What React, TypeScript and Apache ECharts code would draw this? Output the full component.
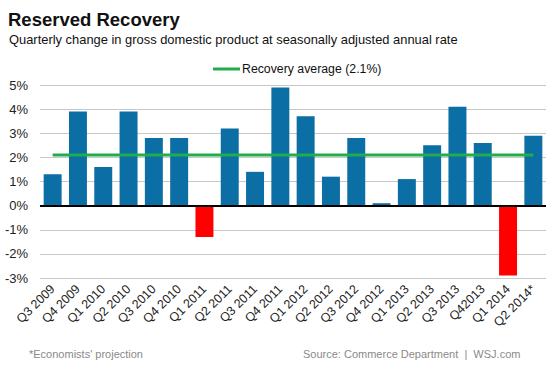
import React, { useEffect, useRef } from "react";
import * as echarts from "echarts";

const categories = [
  "Q3 2009", "Q4 2009", "Q1 2010", "Q2 2010", "Q3 2010", "Q4 2010",
  "Q1 2011", "Q2 2011", "Q3 2011", "Q4 2011", "Q1 2012", "Q2 2012",
  "Q3 2012", "Q4 2012", "Q1 2013", "Q2 2013", "Q3 2013", "Q42013",
  "Q1 2014", "Q2 2014*",
];
const gdpChange = [
  1.3, 3.9, 1.6, 3.9, 2.8, 2.8, -1.3, 3.2, 1.4, 4.9,
  3.7, 1.2, 2.8, 0.1, 1.1, 2.5, 4.1, 2.6, -2.9, 2.9,
];
const recoveryAverage = 2.1;
const averageName = "Recovery average (2.1%)";

const BLUE = "#0b6ea4";
const RED = "#ff0000";
const GREEN = "#21ad4b";

export default function App() {
  const ref = useRef<HTMLDivElement>(null);
  useEffect(() => {
    if (!ref.current) return;
    const chart = echarts.init(ref.current, null, { renderer: "svg" });
    chart.setOption({
      animation: false,
      backgroundColor: "#ffffff",
      textStyle: { fontFamily: "Liberation Sans, Arial, sans-serif" },
      title: [
        {
          text: "Reserved Recovery",
          left: 3,
          top: 5,
          textStyle: { fontSize: 18.5, fontWeight: "bold", color: "#111" },
        },
        {
          text: "Quarterly change in gross domestic product at seasonally adjusted annual rate",
          left: 4,
          top: 28,
          textStyle: { fontSize: 12.9, fontWeight: "normal", color: "#111" },
        },
        {
          text: "*Economists' projection",
          left: 24,
          top: 343,
          textStyle: { fontSize: 11, fontWeight: "normal", color: "#8a8a8a" },
        },
        {
          text: "Source: Commerce Department  |  WSJ.com",
          left: 298,
          top: 343,
          textStyle: { fontSize: 11, fontWeight: "normal", color: "#8a8a8a" },
        },
      ],
      legend: {
        left: 208,
        top: 58,
        itemWidth: 27,
        itemHeight: 3,
        itemGap: 10,
        data: [{ name: averageName, icon: "rect" }],
        textStyle: { fontSize: 12.3, color: "#111", padding: [0, 0, 0, -3] },
      },
      grid: { left: 40, right: 7, top: 85, bottom: 91, containLabel: false },
      xAxis: {
        type: "category",
        data: categories,
        axisLine: { show: false },
        axisTick: { show: false },
        axisLabel: {
          rotate: 45,
          fontSize: 12.5,
          color: "#222",
          margin: 9,
          interval: 0,
        },
      },
      yAxis: {
        type: "value",
        min: -3,
        max: 5,
        interval: 1,
        axisLabel: { formatter: "{value}%", fontSize: 13, color: "#222", margin: 12 },
        splitLine: { lineStyle: { color: "#c8c8c8", width: 1 } },
        axisLine: { show: false },
        axisTick: { show: false },
      },
      series: [
        {
          type: "bar",
          data: gdpChange.map((v) => ({
            value: v,
            itemStyle: { color: v < 0 ? RED : BLUE },
          })),
          barWidth: "71%",
          markLine: {
            silent: true,
            symbol: "none",
            label: { show: false },
            lineStyle: { color: "#000", width: 2, type: "solid" },
            data: [{ yAxis: 0 }],
            z: 5,
          },
        },
        {
          type: "line",
          name: averageName,
          data: categories.map(() => recoveryAverage),
          symbol: "none",
          lineStyle: { color: GREEN, width: 3 },
          itemStyle: { color: GREEN },
          z: 10,
        },
      ],
    });
    return () => chart.dispose();
  }, []);
  return <div ref={ref} style={{ width: 553, height: 369, position: "absolute", left: 0, top: 0 }} />;
}
